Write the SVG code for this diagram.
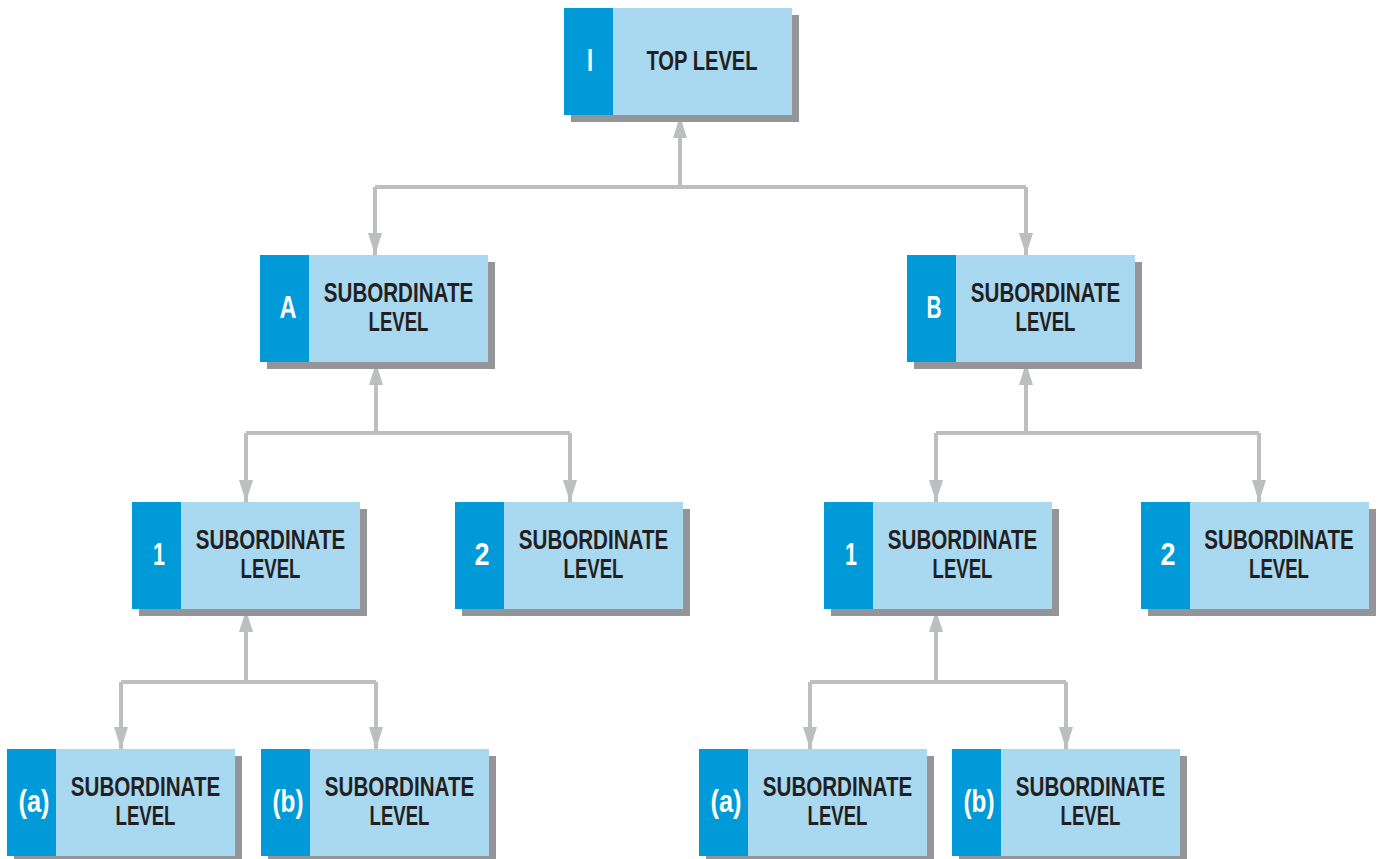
<svg xmlns="http://www.w3.org/2000/svg" width="1379" height="859" viewBox="0 0 1379 859">
<style>
.sh{fill:#939598}
.lt{fill:#a9d8f1}
.bl{fill:#009ad8}
.lb{font-family:"Liberation Sans",Arial,sans-serif;font-weight:bold;font-size:32px;fill:#ffffff;text-anchor:middle}
.tx{font-family:"Liberation Sans",Arial,sans-serif;font-weight:bold;font-size:28px;fill:#231f20;text-anchor:middle}
.cn{fill:none;stroke:#bcbec0;stroke-width:4}
</style>
<defs>
<marker id="ah" markerUnits="userSpaceOnUse" viewBox="0 0 22 14" refX="22" refY="7" markerWidth="22" markerHeight="14" orient="auto">
<path d="M0,0 L22,7 L0,14 Z" fill="#bcbec0"/>
</marker>
</defs>
<rect width="1379" height="859" fill="#ffffff"/>
<g id="connectors">
<path class="cn" d="M680,187 V116" marker-end="url(#ah)"/>
<path class="cn" d="M375,187 H1026"/>
<path class="cn" d="M375,187 V255" marker-end="url(#ah)"/>
<path class="cn" d="M1026,187 V255" marker-end="url(#ah)"/>
<path class="cn" d="M376,433 V363" marker-end="url(#ah)"/>
<path class="cn" d="M246,433 H570"/>
<path class="cn" d="M246,433 V502" marker-end="url(#ah)"/>
<path class="cn" d="M570,433 V502" marker-end="url(#ah)"/>
<path class="cn" d="M1026,433 V363" marker-end="url(#ah)"/>
<path class="cn" d="M936,433 H1259"/>
<path class="cn" d="M936,433 V502" marker-end="url(#ah)"/>
<path class="cn" d="M1259,433 V502" marker-end="url(#ah)"/>
<path class="cn" d="M246,682 V610" marker-end="url(#ah)"/>
<path class="cn" d="M121,682 H376"/>
<path class="cn" d="M121,682 V749" marker-end="url(#ah)"/>
<path class="cn" d="M376,682 V749" marker-end="url(#ah)"/>
<path class="cn" d="M936,682 V610" marker-end="url(#ah)"/>
<path class="cn" d="M810,682 H1066"/>
<path class="cn" d="M810,682 V749" marker-end="url(#ah)"/>
<path class="cn" d="M1066,682 V749" marker-end="url(#ah)"/>
</g>
<g id="top">
<rect class="sh" x="571" y="15" width="228" height="107"/>
<rect class="lt" x="564" y="8" width="228" height="107"/>
<rect class="bl" x="564" y="8" width="49" height="107"/>
<text class="lb" x="590" y="71" textLength="6" lengthAdjust="spacingAndGlyphs">I</text>
<text class="tx" transform="translate(702,70) scale(0.72,1)">TOP LEVEL</text>
</g>
<g id="nodeA">
<rect class="sh" x="267" y="262" width="228" height="107"/>
<rect class="lt" x="260" y="255" width="228" height="107"/>
<rect class="bl" x="260" y="255" width="49" height="107"/>
<text class="lb" x="288" y="318" textLength="17" lengthAdjust="spacingAndGlyphs">A</text>
<text class="tx" transform="translate(398.5,302) scale(0.735,1)">SUBORDINATE</text>
<text class="tx" transform="translate(398.5,331) scale(0.665,1)">LEVEL</text>
</g>
<g id="nodeB">
<rect class="sh" x="914" y="262" width="228" height="107"/>
<rect class="lt" x="907" y="255" width="228" height="107"/>
<rect class="bl" x="907" y="255" width="49" height="107"/>
<text class="lb" x="934" y="318" textLength="15" lengthAdjust="spacingAndGlyphs">B</text>
<text class="tx" transform="translate(1045.5,302) scale(0.735,1)">SUBORDINATE</text>
<text class="tx" transform="translate(1045.5,331) scale(0.665,1)">LEVEL</text>
</g>
<g id="nodeA1">
<rect class="sh" x="139" y="509" width="228" height="107"/>
<rect class="lt" x="132" y="502" width="228" height="107"/>
<rect class="bl" x="132" y="502" width="49" height="107"/>
<text class="lb" x="159" y="565" textLength="12" lengthAdjust="spacingAndGlyphs">1</text>
<text class="tx" transform="translate(270.5,549) scale(0.735,1)">SUBORDINATE</text>
<text class="tx" transform="translate(270.5,578) scale(0.665,1)">LEVEL</text>
</g>
<g id="nodeA2">
<rect class="sh" x="462" y="509" width="228" height="107"/>
<rect class="lt" x="455" y="502" width="228" height="107"/>
<rect class="bl" x="455" y="502" width="49" height="107"/>
<text class="lb" x="482" y="565" textLength="15" lengthAdjust="spacingAndGlyphs">2</text>
<text class="tx" transform="translate(593.5,549) scale(0.735,1)">SUBORDINATE</text>
<text class="tx" transform="translate(593.5,578) scale(0.665,1)">LEVEL</text>
</g>
<g id="nodeB1">
<rect class="sh" x="831" y="509" width="228" height="107"/>
<rect class="lt" x="824" y="502" width="228" height="107"/>
<rect class="bl" x="824" y="502" width="49" height="107"/>
<text class="lb" x="851" y="565" textLength="12" lengthAdjust="spacingAndGlyphs">1</text>
<text class="tx" transform="translate(962.5,549) scale(0.735,1)">SUBORDINATE</text>
<text class="tx" transform="translate(962.5,578) scale(0.665,1)">LEVEL</text>
</g>
<g id="nodeB2">
<rect class="sh" x="1148" y="509" width="228" height="107"/>
<rect class="lt" x="1141" y="502" width="228" height="107"/>
<rect class="bl" x="1141" y="502" width="49" height="107"/>
<text class="lb" x="1168" y="565" textLength="15" lengthAdjust="spacingAndGlyphs">2</text>
<text class="tx" transform="translate(1279,549) scale(0.735,1)">SUBORDINATE</text>
<text class="tx" transform="translate(1279,578) scale(0.665,1)">LEVEL</text>
</g>
<g id="nodeA1a">
<rect class="sh" x="14" y="756" width="228" height="107"/>
<rect class="lt" x="7" y="749" width="228" height="107"/>
<rect class="bl" x="7" y="749" width="49" height="107"/>
<text class="lb" x="34" y="812" textLength="31" lengthAdjust="spacingAndGlyphs">(a)</text>
<text class="tx" transform="translate(145.5,796) scale(0.735,1)">SUBORDINATE</text>
<text class="tx" transform="translate(145.5,825) scale(0.665,1)">LEVEL</text>
</g>
<g id="nodeA1b">
<rect class="sh" x="268" y="756" width="228" height="107"/>
<rect class="lt" x="261" y="749" width="228" height="107"/>
<rect class="bl" x="261" y="749" width="49" height="107"/>
<text class="lb" x="288" y="812" textLength="31" lengthAdjust="spacingAndGlyphs">(b)</text>
<text class="tx" transform="translate(399.5,796) scale(0.735,1)">SUBORDINATE</text>
<text class="tx" transform="translate(399.5,825) scale(0.665,1)">LEVEL</text>
</g>
<g id="nodeB1a">
<rect class="sh" x="706" y="756" width="228" height="107"/>
<rect class="lt" x="699" y="749" width="228" height="107"/>
<rect class="bl" x="699" y="749" width="49" height="107"/>
<text class="lb" x="726" y="812" textLength="31" lengthAdjust="spacingAndGlyphs">(a)</text>
<text class="tx" transform="translate(837.5,796) scale(0.735,1)">SUBORDINATE</text>
<text class="tx" transform="translate(837.5,825) scale(0.665,1)">LEVEL</text>
</g>
<g id="nodeB1b">
<rect class="sh" x="959" y="756" width="228" height="107"/>
<rect class="lt" x="952" y="749" width="228" height="107"/>
<rect class="bl" x="952" y="749" width="49" height="107"/>
<text class="lb" x="979" y="812" textLength="31" lengthAdjust="spacingAndGlyphs">(b)</text>
<text class="tx" transform="translate(1090.5,796) scale(0.735,1)">SUBORDINATE</text>
<text class="tx" transform="translate(1090.5,825) scale(0.665,1)">LEVEL</text>
</g>
</svg>
